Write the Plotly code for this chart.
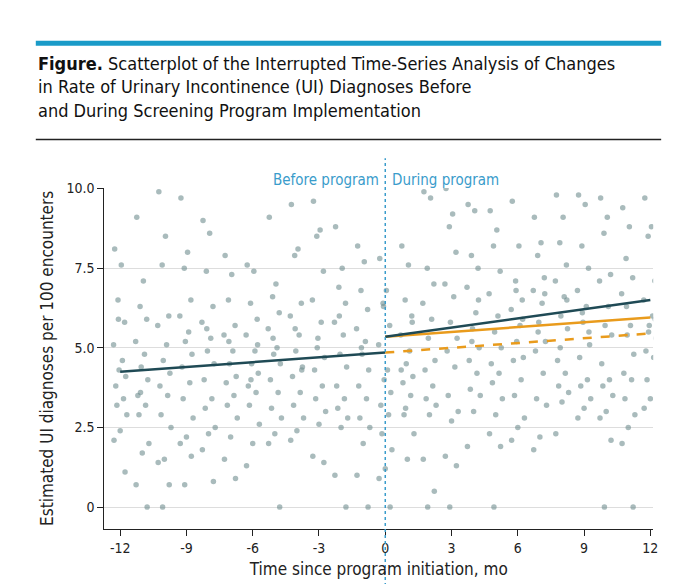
import plotly.graph_objects as go

# monthly estimated UI diagnoses per 100 encounters (read approx. from picture)
months = list(range(-12, 13))
rates = {
    -12: [8.1, 7.6, 6.5, 5.8, 5.1, 4.6, 4.3, 4.1, 3.8, 3.4, 3.2, 2.9, 2.4, 2.1, 1.1, 5.9],
    -11: [9.1, 7.1, 6.3, 5.9, 5.2, 4.8, 4.4, 4.0, 3.5, 3.2, 2.9, 2.0, 1.7, 0.7, 0.0, 3.6],
    -10: [9.9, 8.5, 7.6, 6.0, 5.7, 5.1, 4.6, 4.2, 3.8, 3.5, 2.9, 2.5, 1.5, 1.4, 0.7, 0.0],
    -9: [9.7, 8.0, 7.5, 6.5, 6.0, 5.5, 5.2, 4.8, 4.4, 3.9, 3.4, 2.8, 2.2, 2.0, 1.6, 0.7],
    -8: [9.0, 8.6, 7.4, 6.3, 5.8, 5.3, 4.9, 4.5, 4.0, 3.4, 3.1, 2.5, 2.3, 1.8, 0.8, 5.6],
    -7: [7.9, 7.3, 6.5, 5.7, 5.4, 4.9, 4.5, 4.1, 3.9, 3.5, 3.2, 2.8, 2.2, 1.5, 0.9, 5.2],
    -6: [7.6, 7.4, 6.4, 5.9, 5.4, 4.9, 4.5, 4.2, 3.8, 3.6, 3.2, 2.6, 2.0, 1.3, 5.1, 4.0],
    -5: [9.1, 7.0, 6.6, 6.1, 5.6, 5.0, 4.8, 4.5, 4.0, 3.6, 3.1, 2.8, 2.3, 2.0, 0.0, 5.3],
    -4: [9.5, 8.1, 7.9, 6.4, 6.0, 5.4, 4.9, 4.4, 4.1, 3.6, 3.2, 2.8, 2.4, 2.1, 4.3, 5.6],
    -3: [9.6, 8.7, 8.5, 7.4, 6.5, 5.8, 5.3, 4.7, 4.3, 3.8, 3.4, 3.0, 2.6, 1.6, 1.4, 5.0],
    -2: [8.8, 7.5, 6.9, 6.4, 5.8, 5.4, 4.8, 4.4, 3.8, 3.4, 3.1, 2.8, 2.5, 1.0, 0.0, 6.0],
    -1: [8.2, 7.7, 6.8, 6.2, 5.6, 5.2, 4.8, 4.3, 3.8, 3.4, 2.8, 2.5, 2.0, 1.0, 0.0, 5.0],
    0: [7.8, 6.8, 6.4, 5.7, 5.1, 4.3, 4.0, 3.6, 3.2, 2.9, 2.3, 1.8, 1.2, 0.9, 0.0, 6.3],
    1: [8.2, 7.6, 6.5, 6.0, 5.4, 4.9, 4.5, 4.1, 3.9, 3.5, 2.9, 2.3, 1.5, 4.3, 5.8, 3.1],
    2: [9.9, 9.7, 7.5, 7.0, 6.4, 5.9, 5.3, 4.6, 4.3, 3.8, 3.4, 3.2, 2.9, 1.5, 0.5, 0.0],
    3: [10.0, 9.2, 8.8, 8.0, 7.0, 6.6, 5.8, 5.3, 4.9, 4.4, 3.5, 3.0, 2.7, 1.6, 1.3, 0.0],
    4: [9.5, 9.3, 7.9, 7.5, 6.9, 6.1, 5.6, 5.0, 4.6, 4.2, 3.7, 3.5, 3.0, 1.9, 6.5, 5.2],
    5: [9.3, 8.7, 8.2, 7.4, 6.7, 6.0, 5.5, 5.0, 4.5, 4.2, 3.9, 3.4, 2.9, 2.3, 1.9, 0.0],
    6: [9.6, 8.2, 7.1, 6.5, 6.2, 5.7, 5.2, 4.7, 4.6, 4.0, 3.5, 2.8, 2.5, 2.1, 5.9, 6.8],
    7: [9.1, 8.3, 7.9, 7.2, 6.8, 6.4, 5.8, 5.2, 4.9, 4.2, 3.4, 3.2, 2.2, 1.8, 6.7, 5.5],
    8: [9.8, 9.1, 8.3, 7.6, 7.1, 6.6, 6.0, 5.6, 4.6, 4.2, 3.8, 3.6, 3.3, 2.3, 6.5, 5.0],
    9: [9.8, 9.5, 8.2, 7.5, 6.8, 6.3, 5.8, 5.1, 4.7, 4.0, 3.8, 3.4, 3.1, 2.8, 5.5, 6.1],
    10: [9.7, 9.1, 8.6, 7.3, 7.1, 6.3, 5.7, 5.4, 4.5, 4.0, 3.8, 3.5, 3.0, 2.8, 2.1, 0.0],
    11: [9.4, 8.8, 7.8, 7.2, 6.7, 5.7, 5.4, 4.8, 4.2, 4.0, 3.4, 2.9, 2.5, 2.0, 0.0, 6.3],
    12: [9.7, 8.8, 8.5, 7.1, 6.5, 6.0, 5.7, 5.3, 4.9, 4.7, 4.0, 3.9, 3.4, 3.1, 5.9, 5.5],
}
# horizontal jitter offsets used to spread each month column
jitter = [-0.25, 0.05, -0.1, 0.2, -0.3, 0.1, -0.05, 0.25, -0.2, 0.15, -0.15, 0.3, 0.0, -0.28, 0.22, -0.08]

pre_x, pre_y = [-12, 0], [4.25, 4.85]
post_x, post_y = [0, 12], [5.35, 6.5]
cf_x, cf_y = [0, 12], [5.35, 5.95]
cf2_x, cf2_y = [0, 12], [4.85, 5.45]

xs, ys = [], []
for m in months:
    for i, v in enumerate(rates[m]):
        xs.append(m + jitter[i % len(jitter)])
        ys.append(v)

dark = "#1f4a55"
orange = "#e99b1c"
blue = "#3a9ccb"
font = "DejaVu Sans Condensed"

fig = go.Figure()
fig.add_trace(go.Scatter(x=xs, y=ys, mode="markers",
                         marker=dict(size=5.5, color="#6f8e90", opacity=0.6)))
fig.add_trace(go.Scatter(x=pre_x, y=pre_y, mode="lines", line=dict(color=dark, width=2.5)))
fig.add_trace(go.Scatter(x=cf2_x, y=cf2_y, mode="lines", line=dict(color=orange, width=2.5, dash="dash")))
fig.add_trace(go.Scatter(x=cf_x, y=cf_y, mode="lines", line=dict(color=orange, width=2.5)))
fig.add_trace(go.Scatter(x=post_x, y=post_y, mode="lines", line=dict(color=dark, width=2.5)))

fig.update_layout(
    width=680, height=584, showlegend=False,
    margin=dict(l=0, r=0, t=0, b=0),
    plot_bgcolor="white", paper_bgcolor="white",
    font=dict(family=font, size=14, color="#222"),
    xaxis=dict(domain=[97/680, 650/680], range=[-12.72, 12.13],
               tickvals=[-12, -9, -6, -3, 0, 3, 6, 9, 12],
               ticktext=["-12", "-9", "-6", "-3", "0", "3", "6", "9", "12"],
               showgrid=False, zeroline=False, showline=True, linecolor="#222",
               ticks="outside", ticklen=6, tickcolor="#222",
               title=dict(text="Time since program initiation, mo", standoff=8)),
    yaxis=dict(domain=[64/584, 409/584], range=[-0.68, 10.02],
               tickvals=[0, 2.5, 5, 7.5, 10],
               ticktext=["0", "2.5", "5.0", "7.5", "10.0"],
               showgrid=True, gridcolor="#dddddd", zeroline=False,
               showline=True, linecolor="#222",
               ticks="outside", ticklen=6, tickcolor="#222",
               title=dict(text="Estimated UI diagnoses per 100 encounters", standoff=8)),
)

fig.add_shape(type="line", xref="x", yref="paper", x0=0, x1=0, y0=0, y1=1-145/584,
              line=dict(color=blue, width=1.5, dash="dot"))

fig.add_shape(type="rect", xref="paper", yref="paper", x0=28/680, x1=658/680,
              y0=1-31/584, y1=1-26/584, fillcolor="#1a9bc8", line_width=0)
fig.add_shape(type="line", xref="paper", yref="paper", x0=28/680, x1=658/680,
              y0=1-126/584, y1=1-126/584, line=dict(color="#222", width=1.5))

fig.add_annotation(xref="paper", yref="paper", x=28/680, y=1-36/584, xanchor="left", yanchor="top",
                   align="left", showarrow=False,
                   text="<b>Figure.</b> Scatterplot of the Interrupted Time-Series Analysis of Changes<br>"
                        "in Rate of Urinary Incontinence (UI) Diagnoses Before<br>"
                        "and During Screening Program Implementation",
                   font=dict(family=font, size=18, color="#111"))
fig.add_annotation(xref="x", yref="paper", x=-0.2, y=1-156/584, xanchor="right", showarrow=False,
                   text="Before program", font=dict(family=font, size=15, color=blue))
fig.add_annotation(xref="x", yref="paper", x=0.2, y=1-156/584, xanchor="left", showarrow=False,
                   text="During program", font=dict(family=font, size=15, color=blue))

fig.write_html("out.html")
